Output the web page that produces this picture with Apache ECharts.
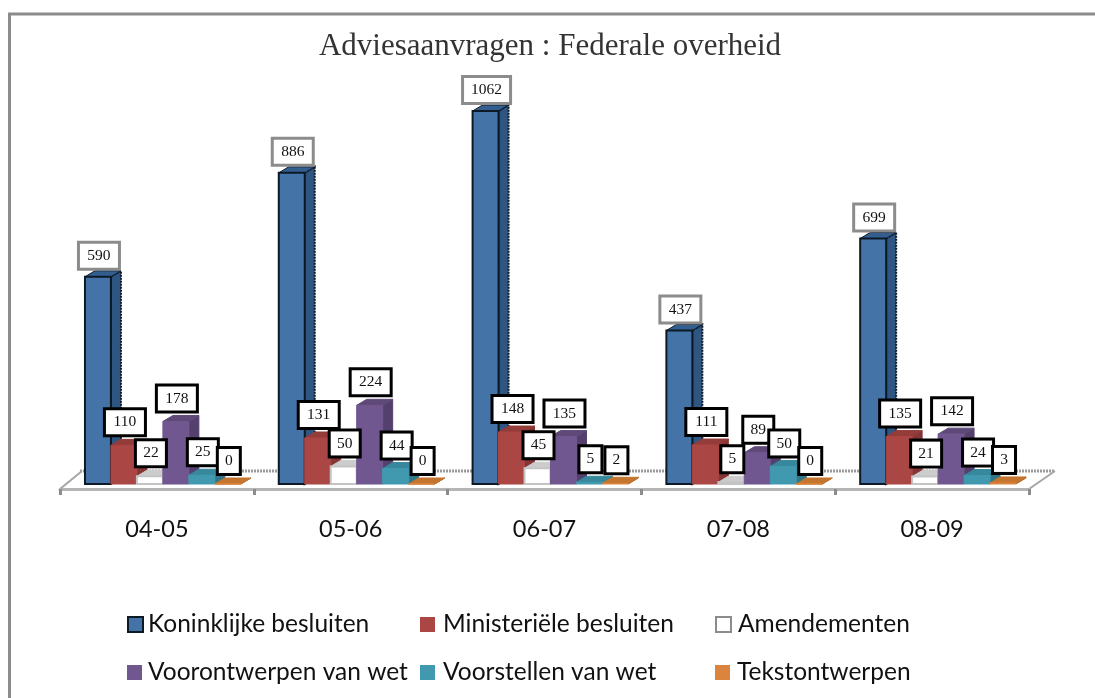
<!DOCTYPE html>
<html>
<head>
<meta charset="utf-8">
<style>
  html, body { margin: 0; padding: 0; background: #fff; }
  #main { width: 1095px; height: 698px; }
</style>
<script src="https://cdn.jsdelivr.net/npm/echarts@6/dist/echarts.min.js"></script>
</head>
<body>
<div id="main"></div>
<script>
const years = ['04-05', '05-06', '06-07', '07-08', '08-09'];
const seriesNames = ['Koninklijke besluiten', 'Ministeriële besluiten', 'Amendementen', 'Voorontwerpen van wet', 'Voorstellen van wet', 'Tekstontwerpen'];
const koninklijke = [590, 886, 1062, 437, 699];
const ministeriele = [110, 131, 148, 111, 135];
const amendementen = [22, 50, 45, 5, 21];
const voorontwerpen = [178, 224, 135, 89, 142];
const voorstellen = [25, 44, 5, 50, 24];
const tekstontwerpen = [0, 0, 2, 0, 3];
const allValues = [koninklijke, ministeriele, amendementen, voorontwerpen, voorstellen, tekstontwerpen];

// front, side, top
const colors = [
    ['#4473a8', '#2f5683', '#335f90'],
    ['#aa4644', '#853533', '#933c3a'],
    ['#ffffff', '#bdbdbd', '#cccccc'],
    ['#71578f', '#54406c', '#5f4979'],
    ['#4199b0', '#2f7789', '#37889d'],
    ['#db843d', '#b56a2d', '#c4752f']
];
const legendPos = [[127, 612], [420, 612], [715, 612], [127, 660], [420, 660], [715, 660]];
const legendTextPad = [5, 8, 7, 6, 8, 7];
const labelWidths = [0, 25, 33, 43, 50];
const depthX = 10, depthY = 6;

const chartDom = document.getElementById('main');
const myChart = echarts.init(chartDom);

function makeRenderItem(si) {
    return function (params, api) {
        const cat = api.value(0);
        const val = api.value(1);
        const base = api.coord([cat, 0]);
        const top = api.coord([cat, val]);
        const catW = api.size([1, 0])[0];
        const w = catW * 26 / 194;
        const x0 = base[0] + catW * 6 / 194 + (si - 3) * w;
        const x1 = x0 + w;
        const y0 = base[1];
        const y1 = top[1];
        const c = colors[si];
        const isBlue = si === 0;
        const isWhite = si === 2;
        const s = String(val);
        const children = [
            {
                type: 'polygon',
                z2: si * 2,
                shape: { points: [[x1, y0], [x1 + depthX, y0 - depthY], [x1 + depthX, y1 - depthY], [x1, y1]] },
                style: { fill: c[1], stroke: isBlue ? '#0d1a26' : c[1], lineWidth: isBlue ? 2 : 1, lineDash: isBlue ? [2, 1] : null }
            },
            {
                type: 'polygon',
                z2: si * 2,
                shape: { points: [[x0, y1], [x0 + depthX, y1 - depthY], [x1 + depthX, y1 - depthY], [x1, y1]] },
                style: { fill: c[2], stroke: isBlue ? '#0d1a26' : c[2], lineWidth: 1 }
            },
            {
                type: 'rect',
                z2: si * 2 + 1,
                shape: { x: x0, y: y1, width: w, height: y0 - y1 },
                style: {
                    fill: c[0],
                    stroke: isBlue ? '#0d1a26' : (isWhite ? '#c4c4c4' : c[0]),
                    lineWidth: isBlue || isWhite ? 2 : 1
                }
            },
            {
                type: 'text',
                z2: 100 + si,
                style: {
                    x: (x0 + x1) / 2 + 1,
                    y: y1 - (isBlue ? 21 : 23),
                    text: s,
                    align: 'center',
                    verticalAlign: 'middle',
                    fill: '#111',
                    font: '15.5px "Liberation Serif"',
                    width: labelWidths[s.length] - 11,
                    height: 22,
                    lineHeight: 22,
                    backgroundColor: '#fff',
                    borderColor: isBlue ? '#8c8c8c' : '#000',
                    borderWidth: 3,
                    padding: [1, 3]
                }
            }
        ];
        return { type: 'group', children: children };
    };
}

const option = {
    animation: false,
    backgroundColor: '#fff',
    title: {
        text: 'Adviesaanvragen : Federale overheid',
        left: 545,
        top: 26,
        textAlign: 'center',
        textStyle: {
            fontFamily: 'Liberation Serif',
            fontWeight: 'normal',
            fontSize: 31,
            color: '#333'
        }
    },
    legend: seriesNames.map(function (name, i) {
        return {
            data: [name],
            left: legendPos[i][0],
            top: legendPos[i][1],
            itemWidth: 15,
            itemHeight: 15,
            itemGap: 0,
            icon: 'rect',
            selectedMode: false,
            padding: 0,
            textStyle: { fontFamily: 'Lato', fontSize: 24.5, color: '#111', padding: [0, 0, 0, legendTextPad[i] - 5] }
        };
    }),
    grid: { left: 60, right: 66, top: 111, bottom: 214 },
    xAxis: {
        type: 'category',
        data: years,
        offset: 5,
        boundaryGap: true,
        axisLine: { onZero: false, lineStyle: { color: '#b5b5b5', width: 3 } },
        axisTick: { show: true, length: 6, lineStyle: { color: '#8c8c8c', width: 3 } },
        axisLabel: { fontFamily: 'Lato', fontSize: 23.5, color: '#111', margin: 28 }
    },
    yAxis: {
        type: 'value',
        min: 0,
        max: 1062,
        show: false,
        splitLine: { show: false }
    },
    graphic: [
        // outer frame, runs off the right and bottom edge like the source image
        { type: 'rect', z: -10, shape: { x: 9.5, y: 14, width: 1200, height: 800 }, style: { fill: 'none', stroke: '#8c8c8c', lineWidth: 3 } },
        // floor of the 3D plot
        { type: 'line', z: -5, shape: { x1: 80, y1: 471, x2: 1055, y2: 471 }, style: { stroke: '#9a9a9a', lineWidth: 3, lineDash: [2, 1] } },
        { type: 'line', z: -5, shape: { x1: 60, y1: 489, x2: 82, y2: 471 }, style: { stroke: '#a6a6a6', lineWidth: 2 } },
        { type: 'line', z: -5, shape: { x1: 1029, y1: 489, x2: 1055, y2: 471 }, style: { stroke: '#a6a6a6', lineWidth: 2 } }
    ],
    series: seriesNames.map(function (name, si) {
        return {
            type: 'custom',
            name: name,
            clip: false,
            itemStyle: { color: si === 2 ? '#fff' : colors[si][0], borderColor: si === 0 ? '#0d1a26' : si === 2 ? '#8c8c8c' : colors[si][0], borderWidth: si === 0 || si === 2 ? 2 : 0 },
            data: allValues[si].map(function (v, i) { return [i, v]; }),
            encode: { x: 0, y: 1 },
            renderItem: makeRenderItem(si)
        };
    })
};

option && myChart.setOption(option);
</script>
</body>
</html>
